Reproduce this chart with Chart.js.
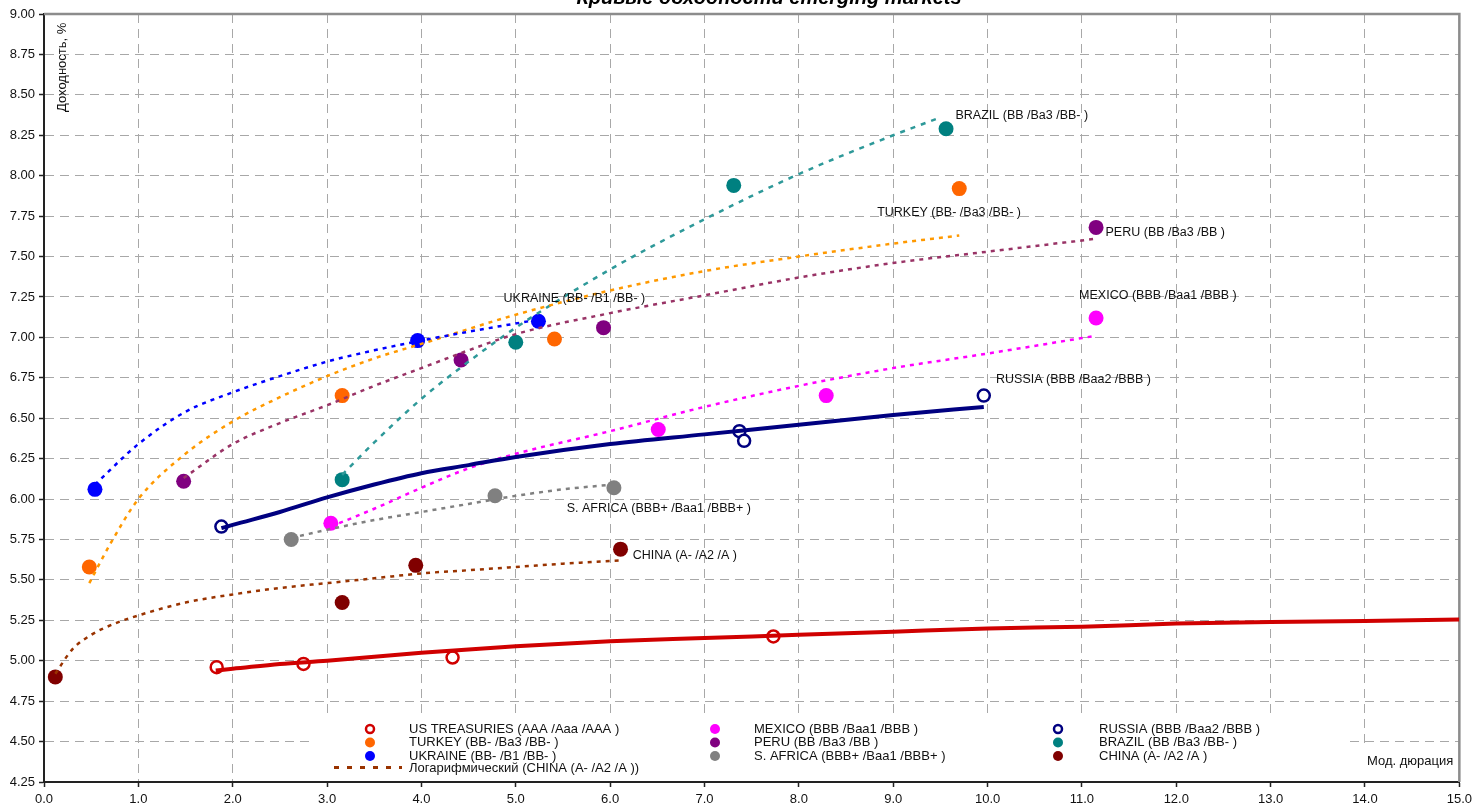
<!DOCTYPE html>
<html>
<head>
<meta charset="utf-8">
<script src="https://cdn.jsdelivr.net/npm/chart.js@4.4.1/dist/chart.umd.min.js"></script>
<style>
  html, body { margin: 0; padding: 0; background: #fff; overflow: hidden; }
</style>
</head>
<body>
<canvas id="Chart" width="1477" height="810"></canvas>
<script>
// yields (%) vs modified duration
const usDur  = [1.83, 2.75, 4.33, 7.73];
const usYld  = [4.96, 4.98, 5.02, 5.15];
const turDur = [0.48, 3.16, 5.41, 9.70];
const turYld = [5.58, 6.64, 6.99, 7.92];
const ukrDur = [0.54, 3.96, 5.24];
const ukrYld = [6.06, 6.98, 7.10];
const mexDur = [3.04, 6.51, 8.29, 11.15];
const mexYld = [5.85, 6.43, 6.64, 7.12];
const perDur = [1.48, 4.42, 5.93, 11.15];
const perYld = [6.11, 6.86, 7.06, 7.68];
const safDur = [2.62, 4.78, 6.04];
const safYld = [5.75, 6.02, 6.07];
const rusDur = [1.88, 7.37, 7.42, 9.96];
const rusYld = [5.83, 6.42, 6.36, 6.64];
const braDur = [3.16, 5.00, 7.31, 9.56];
const braYld = [6.12, 6.97, 7.94, 8.29];
const chnDur = [0.12, 3.16, 3.94, 6.11];
const chnYld = [4.90, 5.36, 5.59, 5.69];

// log trend curves
const usTrendDur  = [1.82, 2.0, 2.5, 3.0, 4.0, 5.0, 6.0, 7.0, 8.0, 9.0, 10.0, 11.0, 12.0, 13.0, 14.0, 15.0];
const usTrendYld  = [4.94, 4.95, 4.98, 5.00, 5.05, 5.09, 5.12, 5.14, 5.16, 5.18, 5.20, 5.21, 5.23, 5.24, 5.245, 5.255];
const turTrendDur = [0.48, 0.7, 1.0, 1.5, 2.0, 2.5, 3.0, 3.5, 4.0, 5.0, 6.0, 7.0, 8.0, 9.0, 9.7];
const turTrendYld = [5.48, 5.72, 6.00, 6.28, 6.48, 6.63, 6.76, 6.87, 6.96, 7.14, 7.29, 7.41, 7.50, 7.58, 7.63];
const ukrTrendDur = [0.54, 1.0, 1.5, 2.0, 2.5, 3.0, 3.5, 4.0, 4.5, 5.24];
const ukrTrendYld = [6.09, 6.34, 6.54, 6.66, 6.76, 6.85, 6.92, 6.98, 7.035, 7.11];
const mexTrendDur = [3.04, 3.5, 4.0, 4.5, 5.0, 6.0, 7.0, 8.0, 9.0, 10.0, 11.15];
const mexTrendYld = [5.83, 5.94, 6.07, 6.19, 6.28, 6.42, 6.57, 6.70, 6.81, 6.90, 7.01];
const perTrendDur = [1.48, 2.0, 2.5, 3.0, 3.5, 4.0, 4.5, 5.0, 6.0, 7.0, 8.0, 9.0, 10.0, 11.15];
const perTrendYld = [6.13, 6.34, 6.47, 6.58, 6.70, 6.81, 6.92, 7.02, 7.15, 7.26, 7.37, 7.46, 7.53, 7.61];
const safTrendDur = [2.62, 3.0, 3.5, 4.0, 4.5, 5.0, 5.5, 6.04];
const safTrendYld = [5.76, 5.81, 5.87, 5.92, 5.97, 6.02, 6.06, 6.09];
const rusTrendDur = [1.88, 2.0, 2.5, 3.0, 3.5, 4.0, 4.5, 5.0, 6.0, 7.0, 8.0, 9.0, 9.96];
const rusTrendYld = [5.82, 5.84, 5.92, 6.01, 6.09, 6.16, 6.21, 6.26, 6.34, 6.40, 6.46, 6.52, 6.57];
const braTrendDur = [3.16, 3.5, 4.0, 4.5, 5.0, 6.0, 7.0, 8.0, 9.0, 9.5];
const braTrendYld = [6.15, 6.35, 6.62, 6.85, 7.06, 7.42, 7.73, 8.01, 8.25, 8.36];
const chnTrendDur = [0.12, 0.3, 0.5, 0.75, 1.0, 1.5, 2.0, 2.5, 3.0, 3.5, 4.0, 4.5, 5.0, 5.5, 6.11];
const chnTrendYld = [4.92, 5.07, 5.16, 5.23, 5.28, 5.36, 5.41, 5.45, 5.48, 5.51, 5.54, 5.56, 5.58, 5.60, 5.62];

const names = {
  us: 'US TREASURIES (AAA /Aaa /AAA )',
  tur: 'TURKEY (BB- /Ba3 /BB- )',
  ukr: 'UKRAINE (BB- /B1 /BB- )',
  mex: 'MEXICO (BBB /Baa1 /BBB )',
  per: 'PERU (BB /Ba3 /BB )',
  saf: 'S. AFRICA (BBB+ /Baa1 /BBB+ )',
  rus: 'RUSSIA (BBB /Baa2 /BBB )',
  bra: 'BRAZIL (BB /Ba3 /BB- )',
  chn: 'CHINA (A- /A2 /A )'
};
const trendName = 'Логарифмический (CHINA (A- /A2 /A ))';
const chartTitle = 'Кривые доходности emerging markets';
const yTitle = 'Доходность, %';
const xTitle = 'Мод. дюрация';

// where the country names sit (in duration / yield units)
const tagPos = {
  bra: [9.66, 8.37], tur: [8.83, 7.77], per: [11.25, 7.65], ukr: [4.87, 7.24],
  mex: [10.97, 7.26], rus: [10.09, 6.74], saf: [5.54, 5.94], chn: [6.24, 5.65]
};

const FONT = '"Liberation Sans", Arial, sans-serif';

function zip(xs, ys) {
  return xs.map((x, i) => ({x: x, y: ys[i]}));
}

function dots(key, xs, ys, color, hollow) {
  return {
    label: names[key],
    data: zip(xs, ys),
    showLine: false,
    pointRadius: hollow ? 6 : 7.5,
    pointHoverRadius: hollow ? 6 : 7.5,
    pointBackgroundColor: hollow ? '#ffffff' : color,
    pointBorderColor: color,
    pointBorderWidth: hollow ? 2.5 : 0,
    order: 2
  };
}

function trend(xs, ys, color, width, dash) {
  return {
    label: 'trend',
    data: zip(xs, ys),
    showLine: true,
    pointRadius: 0,
    pointHoverRadius: 0,
    borderColor: color,
    borderWidth: width,
    borderDash: dash,
    cubicInterpolationMode: 'monotone',
    fill: false,
    order: 1
  };
}

const colors = {
  us: '#d00000', tur: '#ff6600', ukr: '#0000ff', mex: '#ff00ff', per: '#800080',
  saf: '#808080', rus: '#000080', bra: '#008080', chn: '#800000'
};

const datasets = [
  trend(usTrendDur, usTrendYld, '#d00000', 4, []),
  trend(rusTrendDur, rusTrendYld, '#000080', 4, []),
  trend(ukrTrendDur, ukrTrendYld, '#0000ff', 2.5, [4, 5]),
  trend(turTrendDur, turTrendYld, '#ff9900', 2.5, [4, 5]),
  trend(perTrendDur, perTrendYld, '#993366', 2.5, [4, 5]),
  trend(braTrendDur, braTrendYld, '#2e9999', 2.5, [5, 6]),
  trend(mexTrendDur, mexTrendYld, '#ff00ff', 2.5, [4, 5]),
  trend(safTrendDur, safTrendYld, '#808080', 2.5, [4, 5]),
  trend(chnTrendDur, chnTrendYld, '#993300', 2.5, [4, 5]),
  dots('us', usDur, usYld, colors.us, true),
  dots('tur', turDur, turYld, colors.tur, false),
  dots('ukr', ukrDur, ukrYld, colors.ukr, false),
  dots('mex', mexDur, mexYld, colors.mex, false),
  dots('per', perDur, perYld, colors.per, false),
  dots('saf', safDur, safYld, colors.saf, false),
  dots('rus', rusDur, rusYld, colors.rus, true),
  dots('bra', braDur, braYld, colors.bra, false),
  dots('chn', chnDur, chnYld, colors.chn, false)
];

// frame, white boxes, texts and the legend, drawn by hand like excel does
const decor = {
  id: 'decor',
  beforeDatasetsDraw(chart) {
    const {ctx, chartArea: a} = chart;
    ctx.save();
    ctx.strokeStyle = '#8c8c8c';
    ctx.lineWidth = 2.5;
    ctx.beginPath();
    ctx.moveTo(a.left, a.top);
    ctx.lineTo(a.right, a.top);
    ctx.lineTo(a.right, a.bottom);
    ctx.stroke();
    ctx.fillStyle = '#ffffff';
    ctx.fillRect(312, 714, 1036, a.bottom - 714 - 1);
    ctx.fillRect(1362, 746, a.right - 1362 - 1.5, a.bottom - 746 - 1);
    ctx.restore();
  },
  afterDraw(chart) {
    const {ctx, chartArea: a, scales} = chart;
    const sx = scales.x, sy = scales.y;
    ctx.save();

    // title, cut off by the top edge
    ctx.fillStyle = '#000';
    ctx.font = 'italic bold 20px ' + FONT;
    ctx.textAlign = 'center';
    ctx.textBaseline = 'alphabetic';
    ctx.fillText(chartTitle, 769, 4);

    // axis titles
    ctx.font = '13px ' + FONT;
    ctx.fillStyle = '#111';
    ctx.save();
    ctx.translate(62, 112);
    ctx.rotate(-Math.PI / 2);
    ctx.textAlign = 'left';
    ctx.textBaseline = 'middle';
    ctx.fillText(yTitle, 0, 0);
    ctx.restore();
    ctx.textAlign = 'left';
    ctx.textBaseline = 'middle';
    ctx.fillText(xTitle, 1367, 761);

    // country names next to their curves
    ctx.font = '12.5px ' + FONT;
    Object.keys(tagPos).forEach(k => {
      const p = tagPos[k];
      ctx.fillText(names[k], sx.getPixelForValue(p[0]), sy.getPixelForValue(p[1]));
    });

    // legend
    const cols = [[370, 409, ['us', 'tur', 'ukr']], [715, 754, ['mex', 'per', 'saf']], [1058, 1099, ['rus', 'bra', 'chn']]];
    const rows = [729, 742.5, 756];
    ctx.font = '13px ' + FONT;
    cols.forEach(c => {
      c[2].forEach((k, i) => {
        const hollow = (k === 'us' || k === 'rus');
        ctx.beginPath();
        ctx.arc(c[0], rows[i], hollow ? 4 : 5, 0, Math.PI * 2);
        if (hollow) {
          ctx.fillStyle = '#fff';
          ctx.fill();
          ctx.lineWidth = 2.5;
          ctx.strokeStyle = colors[k];
          ctx.stroke();
        } else {
          ctx.fillStyle = colors[k];
          ctx.fill();
        }
        ctx.fillStyle = '#111';
        ctx.fillText(names[k], c[1], rows[i]);
      });
    });
    ctx.strokeStyle = '#993300';
    ctx.lineWidth = 3;
    ctx.setLineDash([5, 8]);
    ctx.beginPath();
    ctx.moveTo(334, 767.5);
    ctx.lineTo(402, 767.5);
    ctx.stroke();
    ctx.setLineDash([]);
    ctx.fillStyle = '#111';
    ctx.fillText(trendName, 409, 768.5);

    ctx.restore();
  }
};

const ctx = document.getElementById('Chart').getContext('2d');
const myChart = new Chart(ctx, {
  type: 'scatter',
  data: { datasets: datasets },
  plugins: [decor],
  options: {
    responsive: false,
    animation: false,
    devicePixelRatio: 1,
    layout: { padding: { top: 14, right: 15, left: 0, bottom: 0 } },
    plugins: {
      legend: { display: false },
      title: { display: false },
      tooltip: { enabled: false }
    },
    scales: {
      x: {
        type: 'linear',
        min: 0,
        max: 15,
        afterFit: s => { s.height = 28; },
        ticks: {
          stepSize: 1,
          padding: 5,
          maxRotation: 0,
          color: '#111',
          font: { family: FONT, size: 13 },
          callback: v => Number(v).toFixed(1)
        },
        grid: { color: '#a8a8a8', lineWidth: 1, tickLength: 5, tickColor: '#222', tickWidth: 1.5 },
        border: { color: '#222', width: 2, dash: [9, 6] }
      },
      y: {
        type: 'linear',
        min: 4.25,
        max: 9,
        afterFit: s => { s.width = 44; },
        ticks: {
          stepSize: 0.25,
          padding: 4,
          color: '#111',
          font: { family: FONT, size: 13 },
          callback: v => Number(v).toFixed(2)
        },
        grid: { color: '#a8a8a8', lineWidth: 1, tickLength: 5, tickColor: '#222', tickWidth: 1.5 },
        border: { color: '#222', width: 2, dash: [9, 6] }
      }
    }
  }
});
</script>
</body>
</html>
